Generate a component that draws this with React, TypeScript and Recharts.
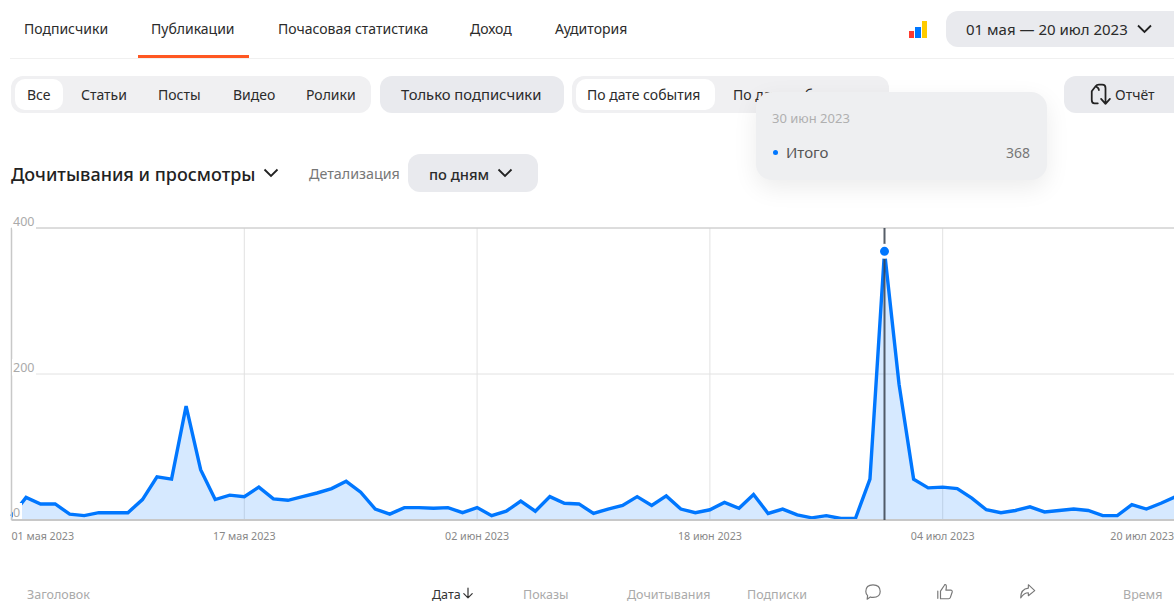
import React from "react";
import {
  AreaChart,
  Area,
  XAxis,
  YAxis,
  CartesianGrid,
  ReferenceLine,
  Tooltip,
} from "recharts";

// daily totals, 01 May - 20 Jul 2023
const totals = [
  5, 31, 22, 22, 8, 6, 10, 10, 10, 28, 59, 56, 156, 69, 28, 34, 32, 45, 29, 27,
  32, 37, 43, 53, 38, 15, 8, 17, 17, 16, 17, 10, 17, 6, 12, 26, 12, 32, 23, 22,
  9, 15, 20, 32, 20, 33, 15, 10, 14, 24, 16, 35, 9, 15, 7, 3, 6, 2, 2, 56, 368,
  186, 56, 44, 45, 43, 30, 14, 10, 13, 18, 11, 13, 15, 13, 6, 6, 21, 15, 23, 32,
];
const tickDays = [0, 16, 32, 48, 64, 80];
const tickLabels = [
  "01 мая 2023",
  "17 мая 2023",
  "02 июн 2023",
  "18 июн 2023",
  "04 июл 2023",
  "20 июл 2023",
];
const yTicks = [0, 200, 400];
const navItems = ["Подписчики", "Публикации", "Почасовая статистика", "Доход", "Аудитория"];
const navLefts = [24, 151, 278, 470, 555];
const typeItems = ["Все", "Статьи", "Посты", "Видео", "Ролики"];
const typeLefts = [27, 81, 158, 233, 306];
const columnNames = ["Заголовок", "Дата", "Показы", "Дочитывания", "Подписки", "Время"];
const columnLefts = [27, 432, 523, 627, 747, 1123];

const chartData = totals.map((total, day) => ({ day, total }));

const FONT = '"Noto Sans", "Open Sans", sans-serif';
const BLUE = "#0077ff";

function Label({ x, y, size = 14, color = "#2b2b2b", weight = 400, lh = 16, children }: any) {
  return (
    <div
      style={{
        position: "absolute",
        left: x,
        top: y - lh / 2,
        height: lh,
        lineHeight: `${lh}px`,
        fontSize: size,
        color,
        fontWeight: weight,
        whiteSpace: "nowrap",
      }}
    >
      {children}
    </div>
  );
}

function Box({ x, y, w, h, r = 12, bg = "#e9eaee" }: any) {
  return (
    <div
      style={{
        position: "absolute",
        left: x,
        top: y,
        width: w,
        height: h,
        borderRadius: r,
        background: bg,
      }}
    />
  );
}

function Chevron({ x, y, w = 15 }: any) {
  return (
    <svg style={{ position: "absolute", left: x, top: y }} width={w} height={10} viewBox="0 0 15 10">
      <path d="M1 1.5 L7.5 8 L14 1.5" fill="none" stroke="#222" strokeWidth={1.8} />
    </svg>
  );
}

function Icon({ x, y, w = 20, h = 20, d, color = "#555", sw = 1.3 }: any) {
  return (
    <svg style={{ position: "absolute", left: x, top: y }} width={w} height={h} viewBox="0 0 20 20">
      <path d={d} fill="none" stroke={color} strokeWidth={sw} strokeLinejoin="round" strokeLinecap="round" />
    </svg>
  );
}

function XTick({ x, y, payload }: any) {
  const i = tickDays.indexOf(payload.value);
  const anchor = i === 0 ? "start" : i === tickDays.length - 1 ? "end" : "middle";
  const tx = i === tickDays.length - 1 ? 1174 : x;
  return (
    <text x={tx} y={y + 12} fontSize={10.7} fill="#888" textAnchor={anchor} fontFamily={FONT}>
      {tickLabels[i]}
    </text>
  );
}

function YTick({ y, payload }: any) {
  const zero = payload.value === 0;
  return (
    <g>
      {zero ? (
        <rect x={13} y={y - 17} width={9} height={16} fill="#fff" />
      ) : (
        <rect x={12} y={y - 15} width={24} height={16.5} fill="#fff" />
      )}
      <text x={13} y={zero ? y - 3.5 : y - 2.5} fontSize={12.5} fill="#aaa" fontFamily={FONT}>
        {payload.value}
      </text>
    </g>
  );
}

function TooltipCard() {
  return (
    <div
      style={{
        width: 291,
        height: 88,
        borderRadius: 16,
        background: "#eeeff1",
        boxShadow: "0 8px 24px rgba(0,0,0,0.08)",
        position: "relative",
        fontFamily: FONT,
      }}
    >
      <Label x={16} y={26} size={13} color="#b0b0b0">30 июн 2023</Label>
      <div
        style={{
          position: "absolute",
          left: 17,
          top: 58,
          width: 5,
          height: 5,
          borderRadius: 3,
          background: BLUE,
        }}
      />
      <Label x={30} y={60} size={15} color="#555">Итого</Label>
      <div
        style={{
          position: "absolute",
          right: 17,
          top: 49,
          lineHeight: "24px",
          fontSize: 14,
          color: "#777",
        }}
      >
        368
      </div>
    </div>
  );
}

export default function App() {
  return (
    <div
      style={{
        position: "absolute",
        left: 0,
        top: 0,
        width: 1174,
        height: 601,
        overflow: "hidden",
        background: "#fff",
        fontFamily: FONT,
      }}
    >
      {navItems.map((item, i) => (
        <Label key={item} x={navLefts[i]} y={29}>{item}</Label>
      ))}
      <Box x={10} y={58} w={1164} h={1} r={0} bg="#f0f0f0" />
      <Box x={138} y={55} w={111} h={3} r={0} bg="#ff5722" />

      <svg style={{ position: "absolute", left: 909, top: 21 }} width={18} height={17}>
        <rect x={0} y={10} width={5} height={7} fill="#ff3b30" />
        <rect x={6} y={6} width={6} height={11} fill={BLUE} />
        <rect x={13} y={0} width={5} height={17} fill="#ffcc00" />
      </svg>
      <Box x={946} y={11} w={240} h={36} />
      <Label x={966} y={28.5} size={15}>01 мая — 20 июл 2023</Label>
      <Chevron x={1137} y={24} />

      <Box x={11} y={76} w={360} h={37} bg="#f0f0f2" />
      <Box x={15} y={79} w={48} h={31} r={10} bg="#fff" />
      {typeItems.map((item, i) => (
        <Label key={item} x={typeLefts[i]} y={95}>{item}</Label>
      ))}
      <Box x={380} y={76} w={184} h={37} />
      <Label x={401} y={94} size={14.8}>Только подписчики</Label>
      <Box x={572} y={76} w={317} h={37} bg="#f0f0f2" />
      <Box x={576} y={79} w={139} h={31} r={10} bg="#fff" />
      <Label x={587} y={95}>По дате события</Label>
      <Label x={733} y={95}>По дате публикации</Label>
      <Box x={1064} y={76} w={125} h={37} />
      <Icon
        x={1089}
        y={83}
        w={22}
        h={23}
        color="#222"
        sw={1.6}
        d="M8 18 H5 Q2.5 18 2.5 15 V7 L6 2.5 Q7 1 9 1 H12 Q15 1 15 4 V12 M11 14 L15 18.5 L19 14 M15 9 V18.5 M6 2.5 Q9 4 9 6"
      />
      <Label x={1115} y={95}>Отчёт</Label>

      <Label x={11} y={173.5} size={18} color="#222" weight={500}>Дочитывания и просмотры</Label>
      <Chevron x={263} y={168} w={16} />
      <Label x={309} y={173.5} size={14.3} color="#777">Детализация</Label>
      <Box x={408} y={154} w={130} h={38} />
      <Label x={429} y={173.5} size={14.7} weight={500}>по дням</Label>
      <Chevron x={497} y={168} w={16} />

      {columnNames.map((name, i) => (
        <Label key={name} x={columnLefts[i]} y={595} lh={12} size={12.5} color={name === "Дата" ? "#333" : "#aaa"}>
          {name}
        </Label>
      ))}
      <Icon x={462} y={587} w={12} h={12} color="#333" sw={2} d="M10 2 V18 M3 11 L10 18 L17 11" />
      <Icon x={864} y={583} w={18} h={18} color="#777" d="M10 2 Q18 2 18 9.5 Q18 16 10 16 Q8 16 7 15.5 L3.5 18 L4 14 Q2 12 2 9.5 Q2 2 10 2 Z" />
      <Icon x={936} y={583} w={18} h={18} color="#777" d="M2 9 V17 M5 9 L9 3 Q9.5 1.5 11 2 Q12 3 11 8 H17 Q18.5 8.5 18 10 L16 16 Q15.5 17.5 14 17.5 H5 Z" />
      <Icon x={1019} y={583} w={17} h={17} color="#777" d="M11 2 L18.5 9 L11 15 V11.5 Q6 11.5 2 17.5 Q2 7 11 6 Z" />

      <div style={{ position: "absolute", left: 0, top: 0 }}>
        <AreaChart
          width={1190}
          height={601}
          data={chartData}
          margin={{ top: 228, right: 14.5, bottom: 41, left: 10.5 }}
        >
          <CartesianGrid stroke="#e2e2e2" horizontalValues={yTicks} verticalValues={tickDays} />
          <XAxis
            dataKey="day"
            type="number"
            domain={[0, 80]}
            ticks={tickDays}
            interval={0}
            height={40}
            axisLine={{ stroke: "#c8c8c8", strokeWidth: 2 }}
            tickLine={false}
            tick={<XTick />}
          />
          <ReferenceLine y={400} stroke="#c8c8c8" />
          <Area
            type="linear"
            dataKey="total"
            stroke={BLUE}
            strokeWidth={3.4}
            fill={BLUE}
            fillOpacity={0.16}
            dot={false}
            activeDot={{ r: 6, fill: BLUE, stroke: "#fff", strokeWidth: 3 }}
            isAnimationActive={false}
          />
          <YAxis
            domain={[0, 400]}
            ticks={yTicks}
            interval={0}
            width={1}
            axisLine={{ stroke: "#c8c8c8", strokeWidth: 1.5 }}
            tickLine={false}
            tick={<YTick />}
          />
          <Tooltip
            defaultIndex={60}
            active
            position={{ x: 756, y: 92 }}
            cursor={{ stroke: "#39424d", strokeWidth: 2, strokeOpacity: 0.85 }}
            isAnimationActive={false}
            wrapperStyle={{ outline: "none" }}
            content={<TooltipCard />}
          />
        </AreaChart>
      </div>
    </div>
  );
}
